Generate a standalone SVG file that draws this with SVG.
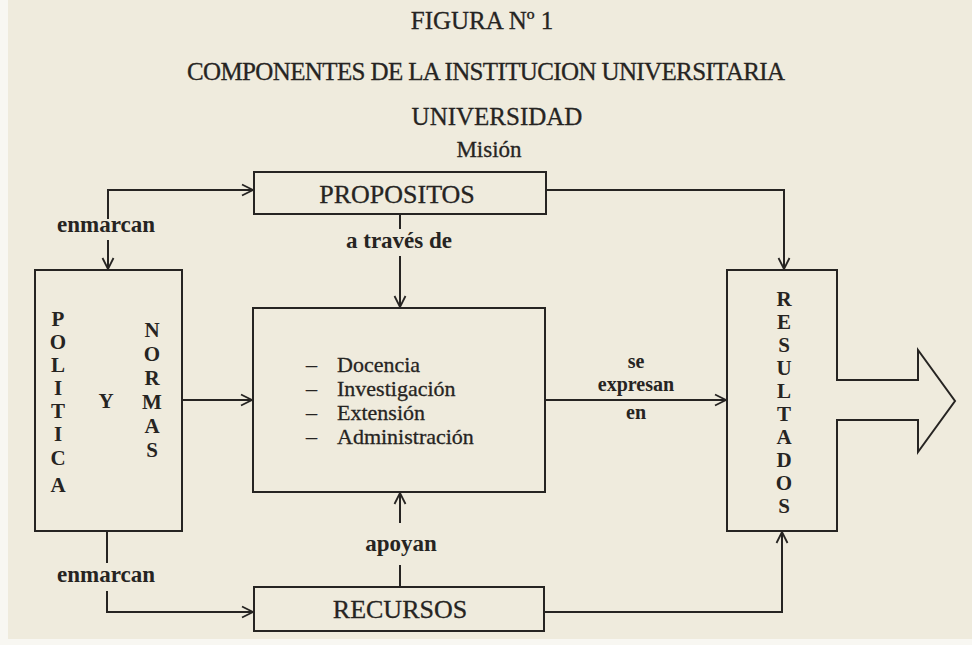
<svg xmlns="http://www.w3.org/2000/svg" width="972" height="645" viewBox="0 0 972 645">
<style>
.ink{fill:none;stroke:#262422;stroke-width:2}
.t{font-family:"Liberation Serif","Times New Roman",serif;fill:#262422;stroke:#262422;stroke-width:0.3}
.b{font-family:"Liberation Serif","Times New Roman",serif;font-weight:bold;fill:#262422}
.c{text-anchor:middle}
</style>
<defs>
<marker id="ah" markerWidth="14" markerHeight="14" refX="12" refY="7" orient="auto" markerUnits="userSpaceOnUse">
<path d="M1,1.5 L12,7 L1,12.5" fill="none" stroke="#262422" stroke-width="1.8"/>
</marker>
</defs>
<rect x="0" y="0" width="972" height="645" fill="#efebdd"/>
<rect x="0" y="0" width="8" height="645" fill="#f8f7f2"/>
<rect x="0" y="639" width="972" height="6" fill="#f8f7f2"/>

<g id="title">
<text class="t c" x="482" y="29" font-size="25">FIGURA Nº 1</text>
<text class="t c" x="486" y="80" font-size="25" textLength="598">COMPONENTES DE LA INSTITUCION UNIVERSITARIA</text>
<text class="t c" x="497" y="125" font-size="25">UNIVERSIDAD</text>
<text class="t c" x="489" y="157" font-size="23">Misión</text>
</g>

<g id="connectors">
<path class="ink" d="M108,219 V190 H253" marker-end="url(#ah)"/>
<path class="ink" d="M108,240 V269" marker-end="url(#ah)"/>
<path class="ink" d="M107,532 V563"/>
<path class="ink" d="M107,591 V612 H253" marker-end="url(#ah)"/>
<path class="ink" d="M400,214 V229"/>
<path class="ink" d="M400,256 V307" marker-end="url(#ah)"/>
<path class="ink" d="M546,190 H784 V269" marker-end="url(#ah)"/>
<path class="ink" d="M182,400 H252" marker-end="url(#ah)"/>
<path class="ink" d="M545,400 H726" marker-end="url(#ah)"/>
<path class="ink" d="M400,587 V565"/>
<path class="ink" d="M400,523 V493" marker-end="url(#ah)"/>
<path class="ink" d="M544,612 H782 V532" marker-end="url(#ah)"/>
<text class="b" x="57" y="232" font-size="23">enmarcan</text>
<text class="b" x="57" y="582" font-size="23">enmarcan</text>
<text class="b c" x="399" y="248" font-size="23">a través de</text>
<text class="b c" x="401" y="551" font-size="23">apoyan</text>
<text class="b c" font-size="20"><tspan x="636" y="368">se</tspan><tspan x="636" y="391">expresan</tspan><tspan x="636" y="419">en</tspan></text>
</g>

<g id="propositos">
<rect class="ink" x="254" y="172" width="292" height="42"/>
<text class="t c" x="397" y="203" font-size="26">PROPOSITOS</text>
</g>

<g id="politica-normas">
<rect class="ink" x="35" y="270" width="147" height="261"/>
<text class="b c" font-size="21"><tspan x="58" y="326">P</tspan><tspan x="58" y="349">O</tspan><tspan x="58" y="372">L</tspan><tspan x="58" y="395">I</tspan><tspan x="58" y="418">T</tspan><tspan x="58" y="441">I</tspan><tspan x="58" y="465">C</tspan><tspan x="58" y="492">A</tspan></text>
<text class="b c" x="106" y="408" font-size="21">Y</text>
<text class="b c" font-size="21"><tspan x="152" y="337">N</tspan><tspan x="152" y="361">O</tspan><tspan x="152" y="385">R</tspan><tspan x="152" y="409">M</tspan><tspan x="152" y="433">A</tspan><tspan x="152" y="457">S</tspan></text>
</g>

<g id="funciones">
<rect class="ink" x="253" y="308" width="292" height="184"/>
<g class="t" font-size="22">
<text y="372"><tspan x="306">–</tspan><tspan x="337">Docencia</tspan></text>
<text y="396"><tspan x="306">–</tspan><tspan x="337">Investigación</tspan></text>
<text y="420"><tspan x="306">–</tspan><tspan x="337">Extensión</tspan></text>
<text y="444"><tspan x="306">–</tspan><tspan x="337">Administración</tspan></text>
</g>
</g>

<g id="resultados">
<path class="ink" d="M727,270 H837 V380 H918 V350 L955,401 L918,452 V420 H837 V531 H727 Z"/>
<text class="b c" font-size="21"><tspan x="784" y="306">R</tspan><tspan x="784" y="329">E</tspan><tspan x="784" y="352">S</tspan><tspan x="784" y="375">U</tspan><tspan x="784" y="398">L</tspan><tspan x="784" y="421">T</tspan><tspan x="784" y="444">A</tspan><tspan x="784" y="467">D</tspan><tspan x="784" y="490">O</tspan><tspan x="784" y="513">S</tspan></text>
</g>

<g id="recursos">
<rect class="ink" x="254" y="587" width="290" height="44"/>
<text class="t c" x="400" y="618" font-size="26">RECURSOS</text>
</g>
</svg>
